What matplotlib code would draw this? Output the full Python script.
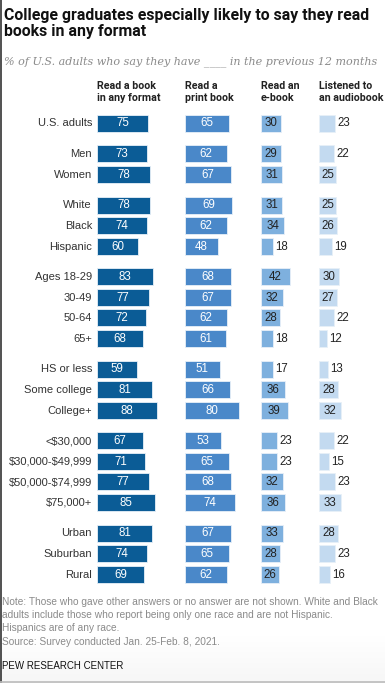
import matplotlib.pyplot as plt
from matplotlib.lines import Line2D
import numpy as np

# chart data
groups = [
    ["U.S. adults"],
    ["Men", "Women"],
    ["White", "Black", "Hispanic"],
    ["Ages 18-29", "30-49", "50-64", "65+"],
    ["HS or less", "Some college", "College+"],
    ["<\\$30,000", "\\$30,000-\\$49,999", "\\$50,000-\\$74,999", "\\$75,000+"],
    ["Urban", "Suburban", "Rural"],
]
any_format = [75, 73, 78, 78, 74, 60, 83, 77, 72, 68, 59, 81, 88, 67, 71, 77, 85, 81, 74, 69]
print_book = [65, 62, 67, 69, 62, 48, 68, 67, 62, 61, 51, 66, 80, 53, 65, 68, 74, 67, 65, 62]
ebook = [30, 29, 31, 31, 34, 18, 42, 32, 28, 18, 17, 36, 39, 23, 23, 32, 36, 33, 28, 26]
audiobook = [23, 22, 25, 25, 26, 19, 30, 27, 22, 12, 13, 28, 32, 22, 15, 23, 33, 28, 23, 16]
headers = ["Read a book\nin any format", "Read a\nprint book", "Read an\ne-book", "Listened to\nan audiobook"]

title = "College graduates especially likely to say they read\nbooks in any format"
subtitle = "% of U.S. adults who say they have ____ in the previous 12 months"
note = ("Note: Those who gave other answers or no answer are not shown. White and Black\n"
        "adults include those who report being only one race and are not Hispanic.\n"
        "Hispanics are of any race.\n"
        "Source: Survey conducted Jan. 25-Feb. 8, 2021.")

W, H = 385, 683
fig = plt.figure(figsize=(W / 100, H / 100), dpi=100)
fig.patch.set_facecolor("white")

# row positions (pixels from top)
labels, ypos = [], []
i = 0
for g, grp in enumerate(groups):
    for lab in grp:
        labels.append(lab)
        ypos.append(123 + 20.5 * i + 10.25 * g)
        i += 1
ypos = np.array(ypos)

series = [any_format, print_book, ebook, audiobook]
colors = ["#0b5c96", "#4a88c9", "#7eb0de", "#c3daf0"]
lefts = [97, 185, 261, 319]
px_per_unit = 0.68

for k, (vals, col, left) in enumerate(zip(series, colors, lefts)):
    width_px = W - left
    ax = fig.add_axes([left / W, 0, width_px / W, 1])
    ax.set_xlim(0, width_px / px_per_unit)
    ax.set_ylim(H, 0)
    ax.axis("off")
    ax.barh(ypos, vals, height=17, color=col, edgecolor="#e8f0f8", linewidth=0.6)
    for y, v in zip(ypos, vals):
        if v >= 24:
            ax.text(v / 2, y + 0.5, str(v), ha="center", va="center", fontsize=8.3,
                    color="white" if k < 2 else "#222222", family="Liberation Sans")
        else:
            ax.text(v + 3.5, y + 0.5, str(v), ha="left", va="center", fontsize=8.3,
                    color="#222222", family="Liberation Sans")
    fig.text(left / W, 1 - 81 / H, headers[k], ha="left", va="top", fontsize=7.7,
             fontweight="bold", color="#222222", family="Roboto", linespacing=1.3)

for lab, y in zip(labels, ypos):
    fig.text(92 / W, 1 - (y + 0.5) / H, lab, ha="right", va="center", fontsize=8.0,
             color="#333333", family="Liberation Sans")

fig.text(4 / W, 1 - 8 / H, title, ha="left", va="top", fontsize=11.4, fontweight="bold",
         color="#111111", family="Roboto", linespacing=1.1)
fig.text(4 / W, 1 - 62 / H, subtitle, ha="left", va="center", fontsize=8.0, style="italic",
         color="#8a8a8a", family="DejaVu Serif")
fig.text(2 / W, 1 - 597 / H, note, ha="left", va="top", fontsize=7.3, color="#8a8a8a",
         family="Liberation Sans", linespacing=1.4)
fig.text(2 / W, 1 - 666 / H, "PEW RESEARCH CENTER", ha="left", va="center", fontsize=7.0,
         color="#111111", family="Liberation Sans")

# faint gradient at bottom, border lines
bg = fig.add_axes([0, 0, 1, 50 / H], zorder=-5)
grad = np.linspace(0, 1, 50).reshape(-1, 1)
bg.imshow(grad, aspect="auto", cmap="Greys", vmin=0, vmax=14, extent=[0, 1, 0, 1])
bg.axis("off")
fig.add_artist(Line2D([0.5 / W, 0.5 / W], [0, 1], color="#333333", linewidth=1.2))
fig.add_artist(Line2D([0, 1], [1.5 / H, 1.5 / H], color="#bbbbbb", linewidth=1.2))

fig.savefig("out.png", dpi=100)
